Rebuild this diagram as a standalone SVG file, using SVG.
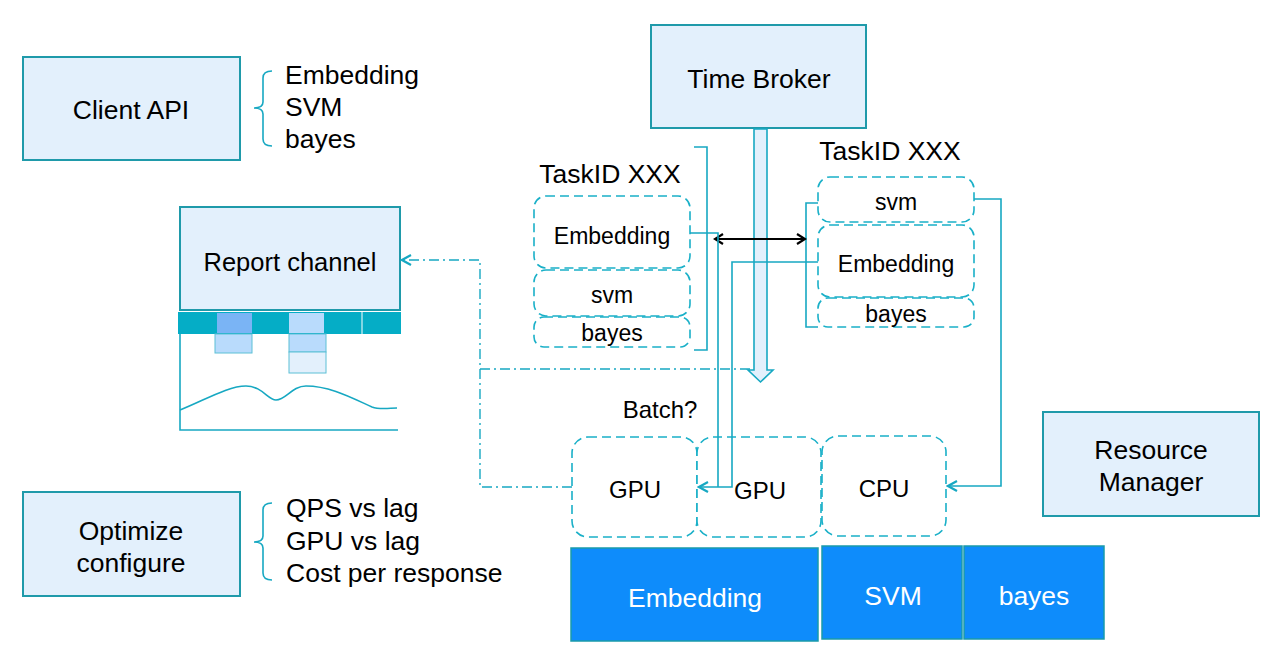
<svg xmlns="http://www.w3.org/2000/svg" width="1284" height="653" viewBox="0 0 1284 653">
<defs>
<style>
text{font-family:"Liberation Sans",Arial,sans-serif;fill:#000}
.box{fill:#e3f0fc;stroke:#1f9aaa;stroke-width:2}
.dash{fill:#fff;stroke:#1ab0c8;stroke-width:1.6;stroke-dasharray:9,5}
.blue{fill:#0e8cfb;stroke:#1a9aaa;stroke-width:1.5}
.wt{fill:#fff}
.ln{fill:none;stroke:#17a8c2;stroke-width:1.6}
.dd{fill:none;stroke:#17a8c2;stroke-width:1.4;stroke-dasharray:10,4,2,4}
.t26{font-size:26.5px}
.t24{font-size:24px}
.t23{font-size:23px}
</style>
<marker id="ah" viewBox="0 0 12 12" refX="10" refY="6" markerWidth="12" markerHeight="12" markerUnits="userSpaceOnUse" orient="auto-start-reverse">
<path d="M1,1 L10,6 L1,11" fill="none" stroke="#17a8c2" stroke-width="2.2"/>
</marker>
<marker id="bh" viewBox="0 0 12 12" refX="10" refY="6" markerWidth="12" markerHeight="12" markerUnits="userSpaceOnUse" orient="auto-start-reverse">
<path d="M2,1 L10,6 L2,11" fill="none" stroke="#000" stroke-width="2.2"/>
</marker>
</defs>
<rect width="1284" height="653" fill="#fff"/>

<g id="client-api">
<rect class="box" x="23" y="57" width="217" height="103"/>
<text class="t26" x="131" y="119" text-anchor="middle">Client API</text>
<path class="ln" d="M272,71 Q263,71 263,78 L263,102 Q263,108 254,108 Q263,108 263,114 L263,139 Q263,146 272,146"/>
<text class="t26" x="285" y="84">Embedding</text>
<text class="t26" x="285" y="116">SVM</text>
<text class="t26" x="285" y="148">bayes</text>
</g>

<g id="time-broker">
<rect class="box" x="651" y="25" width="215" height="103"/>
<text class="t26" x="759" y="88" text-anchor="middle">Time Broker</text>
<path d="M754,129 L767,129 L767,370 L773,370 L760.5,382 L748,370 L754,370 Z" fill="#e3f0fc" stroke="#17a8c2" stroke-width="1.6"/>
</g>

<g id="report-channel">
<rect class="box" x="180" y="207" width="220" height="103"/>
<text x="290" y="271" font-size="25.5" text-anchor="middle">Report channel</text>
<rect x="178" y="312" width="223" height="22" fill="#05adc6"/>
<line x1="362" y1="312" x2="362" y2="334" stroke="#fff" stroke-width="1"/>
<rect x="217" y="313" width="35" height="20" fill="#7ab4f5"/>
<rect x="289" y="313" width="35" height="20" fill="#b9dbfc"/>
<rect x="215" y="334" width="37" height="19" fill="#b9dbfc" stroke="#5cc0d6" stroke-width="1"/>
<rect x="289" y="334" width="37" height="18" fill="#b9dbfc" stroke="#5cc0d6" stroke-width="1"/>
<rect x="289" y="352" width="37" height="21" fill="#e3f0fc" stroke="#5cc0d6" stroke-width="1"/>
<path class="ln" d="M180,334 L180,430 L398,430"/>
<path class="ln" d="M180,410 C205,400 228,386 246,386 C262,386 268,400 276,400 C286,400 292,386 306,386 C330,386 352,398 372,407 C380,410 390,408 397,408"/>
</g>

<g id="task-left">
<text class="t26" x="610" y="183" text-anchor="middle">TaskID XXX</text>
<rect class="dash" x="534" y="196" width="156" height="72" rx="12"/>
<text class="t23" x="612" y="244" text-anchor="middle">Embedding</text>
<rect class="dash" x="534" y="270" width="156" height="46" rx="12"/>
<text class="t23" x="612" y="303" text-anchor="middle">svm</text>
<rect class="dash" x="534" y="317" width="156" height="30" rx="10"/>
<text class="t23" x="612" y="341" text-anchor="middle">bayes</text>
<path class="ln" d="M694,147 L707,147 L707,350 L694,350"/>
</g>

<g id="task-right">
<text class="t26" x="890" y="160" text-anchor="middle">TaskID XXX</text>
<rect class="dash" x="818" y="177" width="156" height="45" rx="12"/>
<text class="t23" x="896" y="210" text-anchor="middle">svm</text>
<rect class="dash" x="818" y="225" width="156" height="72" rx="12"/>
<text class="t23" x="896" y="272" text-anchor="middle">Embedding</text>
<rect class="dash" x="818" y="298" width="156" height="29" rx="10"/>
<text class="t23" x="896" y="322" text-anchor="middle">bayes</text>
<path class="ln" d="M818,203 L806,203 L806,327 L818,327"/>
</g>

<g id="batch-label">
<text class="t24" x="660" y="418" text-anchor="middle">Batch?</text>
</g>

<g id="gpu1">
<rect class="dash" x="572" y="437" width="125" height="100" rx="16"/>
<text class="t24" x="635" y="498" text-anchor="middle">GPU</text>
</g>
<g id="gpu2">
<rect class="dash" x="697" y="437" width="124" height="100" rx="16"/>
<text class="t24" x="760" y="499" text-anchor="middle">GPU</text>
</g>
<g id="cpu">
<rect class="dash" x="822" y="436" width="124" height="100" rx="16"/>
<text class="t24" x="884" y="497" text-anchor="middle">CPU</text>
</g>

<g id="resource-manager">
<rect class="box" x="1043" y="412" width="216" height="104"/>
<text class="t26" x="1151" y="459" text-anchor="middle">Resource</text>
<text class="t26" x="1151" y="491" text-anchor="middle">Manager</text>
</g>

<g id="optimize">
<rect class="box" x="23" y="492" width="217" height="104"/>
<text class="t26" x="131" y="540" text-anchor="middle">Optimize</text>
<text class="t26" x="131" y="572" text-anchor="middle">configure</text>
<path class="ln" d="M272,503 Q263,503 263,510 L263,536 Q263,542 254,542 Q263,542 263,548 L263,573 Q263,580 272,580"/>
<text class="t26" x="286" y="517">QPS vs lag</text>
<text class="t26" x="286" y="550">GPU vs lag</text>
<text class="t26" x="286" y="582">Cost per response</text>
</g>

<g id="block-embedding">
<rect class="blue" x="571" y="548" width="247" height="93"/>
<text class="t26 wt" x="695" y="607" text-anchor="middle">Embedding</text>
</g>
<g id="block-svm">
<rect class="blue" x="822" y="546" width="140" height="93"/>
<text class="t26 wt" x="893" y="605" text-anchor="middle">SVM</text>
</g>
<g id="block-bayes">
<rect class="blue" x="964" y="546" width="140" height="93"/>
<text class="t26 wt" x="1034" y="605" text-anchor="middle">bayes</text>
</g>

<g id="connectors">
<line x1="715" y1="239" x2="805" y2="239" stroke="#000" stroke-width="2" marker-start="url(#bh)" marker-end="url(#bh)"/>
<path class="ln" d="M690,233 L718,233 L718,487"/>
<path class="ln" d="M818,262 L732,262 L732,487 L699,487" marker-end="url(#ah)"/>
<path class="ln" d="M974,199 L1001,199 L1001,486 L948,486" marker-end="url(#ah)"/>
<path class="dd" d="M572,487 L480,487 L480,260 L402,260" marker-end="url(#ah)"/>
<path class="dd" d="M480,369 L752,369"/>
</g>
</svg>
